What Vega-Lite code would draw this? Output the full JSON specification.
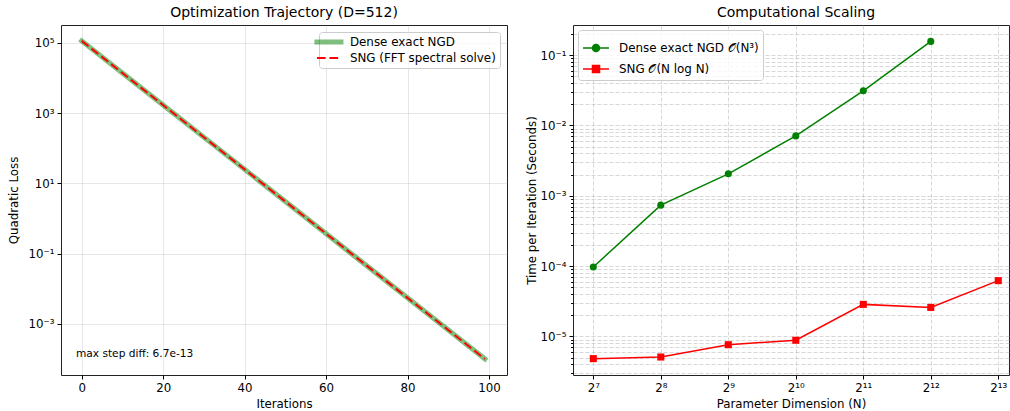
{
  "$schema": "https://vega.github.io/schema/vega-lite/v6.json",
  "padding": {"left": 7, "top": 5, "right": 0, "bottom": 0},
  "autosize": {"type": "pad"},
  "bounds": "flush",
  "spacing": 66,
  "resolve": {"scale": {"color": "independent"}, "legend": {"color": "independent"}},
  "config": {
    "font": "DejaVu Sans",
    "view": {"stroke": "#222", "strokeWidth": 1},
    "title": {"fontSize": 14, "fontWeight": "normal", "color": "#000", "font": "DejaVu Sans"},
    "axis": {
      "domain": false, "labelFont": "DejaVu Sans", "labelFontSize": 11.8, "labelColor": "#000",
      "titleFont": "DejaVu Sans", "titleFontSize": 11.8, "titleFontWeight": "normal", "titleColor": "#000",
      "tickColor": "#000", "tickSize": 4, "tickWidth": 1, "labelPadding": 3, "grid": true,
      "gridColor": "#b0b0b0", "gridOpacity": 0.3, "gridWidth": 1, "labelOverlap": false, "labelFlush": false,
      "titlePadding": 5
    },
    "legend": {"labelFont": "DejaVu Sans", "labelFontSize": 11.9, "labelColor": "#000"}
  },
  "datasets": {
    "trajectory": [
      {"iteration": 0, "series": "Dense exact NGD", "loss": 114000},
      {"iteration": 11, "series": "Dense exact NGD", "loss": 11230},
      {"iteration": 22, "series": "Dense exact NGD", "loss": 1107},
      {"iteration": 33, "series": "Dense exact NGD", "loss": 109.0},
      {"iteration": 44, "series": "Dense exact NGD", "loss": 10.74},
      {"iteration": 55, "series": "Dense exact NGD", "loss": 1.058},
      {"iteration": 66, "series": "Dense exact NGD", "loss": 0.1042},
      {"iteration": 77, "series": "Dense exact NGD", "loss": 0.01027},
      {"iteration": 88, "series": "Dense exact NGD", "loss": 0.001012},
      {"iteration": 99, "series": "Dense exact NGD", "loss": 0.0000997},
      {"iteration": 0, "series": "SNG (FFT spectral solve)", "loss": 114000},
      {"iteration": 11, "series": "SNG (FFT spectral solve)", "loss": 11230},
      {"iteration": 22, "series": "SNG (FFT spectral solve)", "loss": 1107},
      {"iteration": 33, "series": "SNG (FFT spectral solve)", "loss": 109.0},
      {"iteration": 44, "series": "SNG (FFT spectral solve)", "loss": 10.74},
      {"iteration": 55, "series": "SNG (FFT spectral solve)", "loss": 1.058},
      {"iteration": 66, "series": "SNG (FFT spectral solve)", "loss": 0.1042},
      {"iteration": 77, "series": "SNG (FFT spectral solve)", "loss": 0.01027},
      {"iteration": 88, "series": "SNG (FFT spectral solve)", "loss": 0.001012},
      {"iteration": 99, "series": "SNG (FFT spectral solve)", "loss": 0.0000997}
    ],
    "note": [
      {"iteration": -1.4, "loss": 0.000137, "label": "max step diff: 6.7e-13"}
    ],
    "scaling": [
      {"N": 128, "series": "Dense exact NGD 𝒪(N³)", "time": 0.000097},
      {"N": 256, "series": "Dense exact NGD 𝒪(N³)", "time": 0.000735},
      {"N": 512, "series": "Dense exact NGD 𝒪(N³)", "time": 0.00205},
      {"N": 1024, "series": "Dense exact NGD 𝒪(N³)", "time": 0.0071},
      {"N": 2048, "series": "Dense exact NGD 𝒪(N³)", "time": 0.0311},
      {"N": 4096, "series": "Dense exact NGD 𝒪(N³)", "time": 0.157},
      {"N": 128, "series": "SNG 𝒪(N log N)", "time": 0.00000482},
      {"N": 256, "series": "SNG 𝒪(N log N)", "time": 0.00000508},
      {"N": 512, "series": "SNG 𝒪(N log N)", "time": 0.0000076},
      {"N": 1024, "series": "SNG 𝒪(N log N)", "time": 0.0000088},
      {"N": 2048, "series": "SNG 𝒪(N log N)", "time": 0.0000285},
      {"N": 4096, "series": "SNG 𝒪(N log N)", "time": 0.0000258},
      {"N": 8192, "series": "SNG 𝒪(N log N)", "time": 0.000062}
    ]
  },
  "hconcat": [
    {
      "width": 446,
      "height": 350,
      "title": {"text": "Optimization Trajectory (D=512)", "offset": 5},
      "layer": [
        {
          "data": {"name": "trajectory"},
          "transform": [{"filter": "datum.series == 'Dense exact NGD'"}],
          "mark": {"type": "line", "strokeWidth": 5, "opacity": 0.5, "strokeCap": "square"},
          "encoding": {
            "x": {"field": "iteration", "type": "quantitative",
                  "scale": {"domain": [-5.08, 104.42], "nice": false, "zero": false},
                  "axis": {"values": [0, 20, 40, 60, 80, 100], "title": "Iterations", "titlePadding": 5}},
            "y": {"field": "loss", "type": "quantitative",
                  "scale": {"type": "log", "domain": [0.0000347, 323600], "nice": false},
                  "axis": {"values": [0.001, 0.1, 10, 1000, 100000], "title": "Quadratic Loss", "titlePadding": 9,
                           "labelExpr": "datum.value == 100000 ? '10⁵' : datum.value == 1000 ? '10³' : datum.value == 10 ? '10¹' : datum.value == 0.1 ? '10⁻¹' : '10⁻³'"}},
            "color": {"field": "series", "type": "nominal",
                      "scale": {"domain": ["Dense exact NGD", "SNG (FFT spectral solve)"], "range": ["#008000", "#ff0000"]},
                      "legend": {"title": null, "orient": "top-right", "offset": 7, "fillColor": "rgba(255,255,255,0.8)",
                                 "strokeColor": "#cccccc", "cornerRadius": 3, "padding": 4, "symbolType": "stroke",
                                 "symbolSize": 576, "rowPadding": -6.5, "labelOffset": 15,
                                 "encode": {"symbols": {"update": {
                                   "strokeDash": {"signal": "datum.value == 'SNG (FFT spectral solve)' ? [8.7, 3.8] : [1, 0]"},
                                   "strokeWidth": {"signal": "datum.value == 'SNG (FFT spectral solve)' ? 2 : 5"},
                                   "strokeCap": {"signal": "datum.value == 'SNG (FFT spectral solve)' ? 'butt' : 'square'"},
                                   "opacity": {"signal": "datum.value == 'SNG (FFT spectral solve)' ? 1 : 0.5"}
                                 }}}}}
          }
        },
        {
          "data": {"name": "trajectory"},
          "transform": [{"filter": "datum.series == 'SNG (FFT spectral solve)'"}],
          "mark": {"type": "line", "strokeWidth": 2, "strokeDash": [8.7, 3.8]},
          "encoding": {
            "x": {"field": "iteration", "type": "quantitative"},
            "y": {"field": "loss", "type": "quantitative"},
            "color": {"field": "series", "type": "nominal",
                      "legend": {"title": null, "orient": "top-right", "offset": 7, "fillColor": "rgba(255,255,255,0.8)",
                                 "strokeColor": "#cccccc", "cornerRadius": 3, "padding": 4, "symbolType": "stroke",
                                 "symbolSize": 576, "rowPadding": -6.5, "labelOffset": 15,
                                 "encode": {"symbols": {"update": {
                                   "strokeDash": {"signal": "datum.value == 'SNG (FFT spectral solve)' ? [8.7, 3.8] : [1, 0]"},
                                   "strokeWidth": {"signal": "datum.value == 'SNG (FFT spectral solve)' ? 2 : 5"},
                                   "strokeCap": {"signal": "datum.value == 'SNG (FFT spectral solve)' ? 'butt' : 'square'"},
                                   "opacity": {"signal": "datum.value == 'SNG (FFT spectral solve)' ? 1 : 0.5"}
                                 }}}}}
          }
        },
        {
          "data": {"name": "note"},
          "mark": {"type": "text", "align": "left", "baseline": "middle", "fontSize": 10.6, "color": "#000"},
          "encoding": {
            "x": {"field": "iteration", "type": "quantitative"},
            "y": {"field": "loss", "type": "quantitative"},
            "text": {"field": "label"}
          }
        }
      ]
    },
    {
      "width": 436,
      "height": 350,
      "title": {"text": "Computational Scaling", "offset": 5, "dx": 5},
      "layer": [
        {
          "data": {"name": "scaling"},
          "mark": {"type": "line", "strokeWidth": 1.5},
          "encoding": {
            "x": {"field": "N", "type": "quantitative",
                  "scale": {"type": "log", "base": 2, "domain": [103.9, 9146], "nice": false},
                  "axis": {"values": [128, 256, 512, 1024, 2048, 4096, 8192], "title": "Parameter Dimension (N)",
                           "gridDash": [4, 2], "gridOpacity": 0.5, "titlePadding": 5,
                           "labelExpr": "datum.value == 128 ? '2⁷' : datum.value == 256 ? '2⁸' : datum.value == 512 ? '2⁹' : datum.value == 1024 ? '2¹⁰' : datum.value == 2048 ? '2¹¹' : datum.value == 4096 ? '2¹²' : '2¹³'"}},
            "y": {"field": "time", "type": "quantitative",
                  "scale": {"type": "log", "domain": [0.00000282, 0.2685], "nice": false},
                  "axis": {"values": [0.000003, 0.000004, 0.000005, 0.000006, 0.000007, 0.000008, 0.000009, 0.00001, 0.00002, 0.00003, 0.00004, 0.00005, 0.00006, 0.00007, 0.00008, 0.00009, 0.0001, 0.0002, 0.0003, 0.0004, 0.0005, 0.0006, 0.0007, 0.0008, 0.0009, 0.001, 0.002, 0.003, 0.004, 0.005, 0.006, 0.007, 0.008, 0.009, 0.01, 0.02, 0.03, 0.04, 0.05, 0.06, 0.07, 0.08, 0.09, 0.1, 0.2],
                           "title": "Time per Iteration (Seconds)", "titlePadding": 3,
                           "gridDash": [4, 2], "gridOpacity": 0.5,
                           "tickSize": {"condition": {"test": "abs(log(datum.value)/LN10 - round(log(datum.value)/LN10)) < 0.001", "value": 4}, "value": 2.4},
                           "labelExpr": "abs(log(datum.value)/LN10 - round(log(datum.value)/LN10)) >= 0.001 ? '' : round(log(datum.value)/LN10) == -1 ? '10⁻¹' : round(log(datum.value)/LN10) == -2 ? '10⁻²' : round(log(datum.value)/LN10) == -3 ? '10⁻³' : round(log(datum.value)/LN10) == -4 ? '10⁻⁴' : '10⁻⁵'"}},
            "color": {"field": "series", "type": "nominal",
                      "scale": {"domain": ["Dense exact NGD 𝒪(N³)", "SNG 𝒪(N log N)"], "range": ["#008000", "#ff0000"]},
                      "legend": {"title": null, "orient": "top-left", "offset": 5, "fillColor": "rgba(255,255,255,0.8)",
                                 "strokeColor": "#cccccc", "cornerRadius": 3, "padding": 4, "symbolType": "stroke",
                                 "symbolSize": 676, "rowPadding": -8, "labelOffset": 9,
                                 "encode": {"symbols": {"update": {
                                   "shape": {"signal": "indexof(datum.value, 'Dense') >= 0 ? 'M-1,0H-0.27M0.27,0H1M0.27,0A0.27,0.27,0,1,1,-0.27,0A0.27,0.27,0,1,1,0.27,0Z' : 'M-1,0H1M-0.27,-0.27H0.27V0.27H-0.27Z'"},
                                   "fill": {"signal": "indexof(datum.value, 'Dense') >= 0 ? '#008000' : '#ff0000'"},
                                   "stroke": {"signal": "indexof(datum.value, 'Dense') >= 0 ? '#008000' : '#ff0000'"},
                                   "strokeWidth": {"value": 1.5}
                                 }}}}}
          }
        },
        {
          "data": {"name": "scaling"},
          "transform": [{"filter": "indexof(datum.series, 'Dense') >= 0"}],
          "mark": {"type": "point", "shape": "circle", "filled": true, "size": 50, "opacity": 1},
          "encoding": {
            "x": {"field": "N", "type": "quantitative"},
            "y": {"field": "time", "type": "quantitative"},
            "color": {"field": "series", "type": "nominal"}
          }
        },
        {
          "data": {"name": "scaling"},
          "transform": [{"filter": "indexof(datum.series, 'SNG') >= 0"}],
          "mark": {"type": "point", "shape": "square", "filled": true, "size": 50, "opacity": 1},
          "encoding": {
            "x": {"field": "N", "type": "quantitative"},
            "y": {"field": "time", "type": "quantitative"},
            "color": {"field": "series", "type": "nominal"}
          }
        }
      ]
    }
  ]
}
